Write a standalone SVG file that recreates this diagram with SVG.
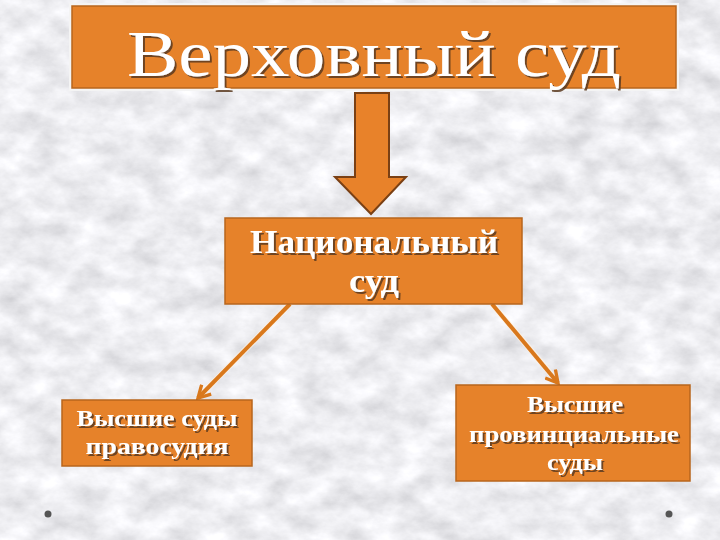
<svg xmlns="http://www.w3.org/2000/svg" width="720" height="540" viewBox="0 0 720 540">
  <defs>
    <filter id="marble" x="0" y="0" width="100%" height="100%">
      <feTurbulence type="fractalNoise" baseFrequency="0.03 0.045" numOctaves="5" seed="7"/>
      <feColorMatrix type="matrix" values="0.5 0 0 0 0.6  0.5 0 0 0 0.6  0.5 0 0 0 0.63  0 0 0 0 1"/>
    </filter>
    <filter id="shadow" x="-10%" y="-20%" width="120%" height="150%">
      <feDropShadow dx="2" dy="2" stdDeviation="0.6" flood-color="#5a3a22" flood-opacity="0.85"/>
    </filter>
    <marker id="arr" viewBox="0 0 12 12" refX="10" refY="6" markerWidth="4" markerHeight="4" orient="auto" markerUnits="strokeWidth">
      <path d="M1,1 L10,6 L1,11" fill="none" stroke="#D9781C" stroke-width="2.5" stroke-linejoin="miter"/>
    </marker>
    <style>
      .box { fill: #E6822A; stroke: #B8651C; stroke-width: 1.5; }
      .lbl { font-family: "Liberation Serif", "DejaVu Serif", serif; fill: #ffffff; text-anchor: middle; filter: url(#shadow); }
      .conn { fill: none; stroke: #D9781C; stroke-width: 4; }
      .halo { fill: none; stroke: #fff4e6; stroke-width: 6; opacity: 0.7; }
    </style>
  </defs>

  <rect x="0" y="0" width="720" height="540" fill="#e8e8ea"/>
  <rect x="0" y="0" width="720" height="540" filter="url(#marble)"/>

  <g id="connectors">
    <line class="halo" x1="290" y1="304" x2="200" y2="396"/>
    <line class="conn" x1="290" y1="304" x2="198" y2="398" marker-end="url(#arr)"/>
    <line class="halo" x1="492" y1="304" x2="556" y2="380"/>
    <line class="conn" x1="492" y1="304" x2="558" y2="383" marker-end="url(#arr)"/>
  </g>

  <g id="supreme">
    <rect x="69" y="3" width="610" height="88" fill="#f4f4f4"/>
    <rect class="box" x="72" y="6" width="604" height="82" stroke="none"/>
    <text class="lbl" x="374" y="76" font-size="66" textLength="494" lengthAdjust="spacingAndGlyphs">Верховный суд</text>
  </g>

  <g id="big-arrow">
    <path d="M355,93 L389,93 L389,177 L406,177 L371,214 L335,177 L355,177 Z" fill="#E8822A" stroke="#7a4014" stroke-width="2" stroke-linejoin="miter"/>
  </g>

  <g id="national">
    <rect class="box" x="225" y="218" width="297" height="86"/>
    <text class="lbl" x="374" y="253" font-size="33" font-weight="bold" textLength="248" lengthAdjust="spacingAndGlyphs">Национальный</text>
    <text class="lbl" x="374" y="292" font-size="33" font-weight="bold" textLength="50" lengthAdjust="spacingAndGlyphs">суд</text>
  </g>

  <g id="justice">
    <rect class="box" x="62" y="400" width="190" height="66"/>
    <text class="lbl" x="157" y="426" font-size="23" font-weight="bold" textLength="161" lengthAdjust="spacingAndGlyphs">Высшие суды</text>
    <text class="lbl" x="157" y="454" font-size="23" font-weight="bold" textLength="143" lengthAdjust="spacingAndGlyphs">правосудия</text>
  </g>

  <g id="provincial">
    <rect class="box" x="456" y="385" width="234" height="96"/>
    <text class="lbl" x="575" y="412" font-size="23" font-weight="bold" textLength="96" lengthAdjust="spacingAndGlyphs">Высшие</text>
    <text class="lbl" x="574" y="442" font-size="23" font-weight="bold" textLength="210" lengthAdjust="spacingAndGlyphs">провинциальные</text>
    <text class="lbl" x="575" y="470" font-size="23" font-weight="bold" textLength="56" lengthAdjust="spacingAndGlyphs">суды</text>
  </g>

  <circle cx="48" cy="514" r="3.5" fill="#555"/>
  <circle cx="669" cy="514" r="3.5" fill="#555"/>
</svg>
